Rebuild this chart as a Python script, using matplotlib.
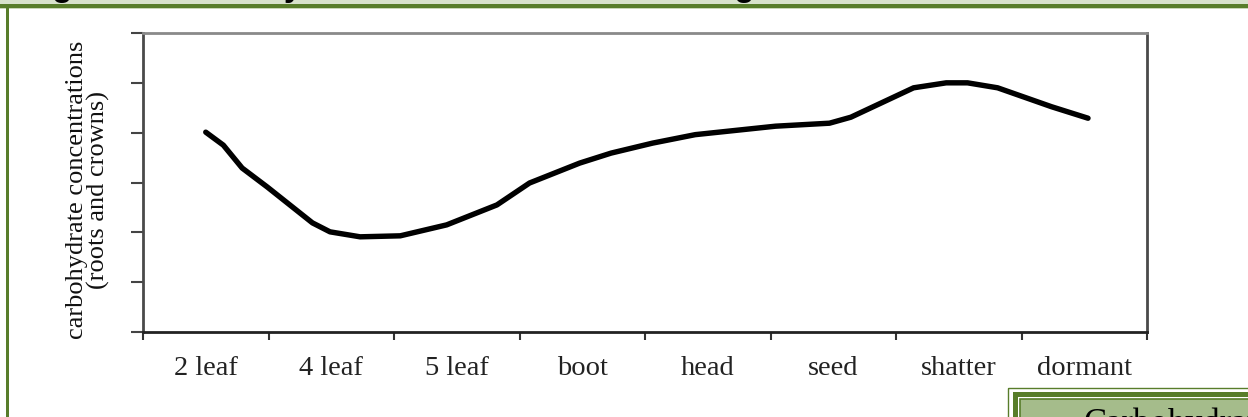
import matplotlib.pyplot as plt
from matplotlib.patches import Rectangle

# Datos
etapas = ['2 leaf', '4 leaf', '5 leaf', 'boot', 'head', 'seed', 'shatter', 'dormant']
pos_curva = [0.0, 0.14, 0.29, 0.49, 0.85, 0.99, 1.23, 1.55, 1.92, 2.32, 2.58, 2.98,
             3.23, 3.56, 3.90, 4.54, 4.97, 5.14, 5.64, 5.90, 6.07, 6.31, 6.74, 7.03]
concentracion = [4.01, 3.75, 3.29, 2.91, 2.19, 2.01, 1.91, 1.93, 2.15, 2.55, 2.99, 3.39,
                 3.59, 3.79, 3.96, 4.13, 4.19, 4.31, 4.90, 5.00, 5.00, 4.90, 4.52, 4.29]
titulo = 'Figure 1. Carbohydrate Concentrations Throughout the Season'
etiqueta_y = 'carbohydrate concentrations\n(roots and crowns)'
texto_caja = 'Carbohydrate'

W, H = 1248, 417
verde = '#587d2a'

fig = plt.figure(figsize=(W / 100, H / 100), dpi=100)

# capa de fondo en pixeles (marco verde, textos sueltos)
bg = fig.add_axes([0, 0, 1, 1])
bg.set_xlim(0, W)
bg.set_ylim(H, 0)
bg.axis('off')
bg.add_patch(Rectangle((0, 0), W, 4.5, color='#d8e2cb', lw=0))
# el titulo queda casi todo fuera de la imagen, solo se ven los rabitos
bg.text(23, -4.5, titulo, fontsize=23.7, fontweight='bold', family='Liberation Sans',
        va='baseline', ha='left', color='black')
bg.add_patch(Rectangle((0, 4), W, 3.5, color=verde, lw=0))
bg.add_patch(Rectangle((0, 7.5), W, 1, color='#c9d7b6', lw=0))
bg.add_patch(Rectangle((6, 4), 2.5, H, color=verde, lw=0))

# caja de abajo a la derecha
bg.add_patch(Rectangle((1008, 387.5), 300, 100, fill=False, ec=verde, lw=1))
bg.add_patch(Rectangle((1013, 392), 300, 5, color=verde, lw=0))
bg.add_patch(Rectangle((1013, 392), 4.5, 100, color=verde, lw=0))
bg.add_patch(Rectangle((1020, 399), 300, 100, fc='#a5bc8b', ec=verde, lw=1.2))
bg.text(1084, 433, texto_caja, fontsize=24.9, family='Liberation Serif',
        va='baseline', ha='left', color='black')

bg.text(88, 190, etiqueta_y, rotation=90, fontsize=19, family='Liberation Serif',
        ha='center', va='center', multialignment='center', linespacing=0.95, color='#111111')

# grafico
ax = fig.add_axes([143 / W, (H - 332) / H, 1004 / W, 299 / H])
ax.plot(pos_curva, concentracion, color='black', lw=3.9,
        solid_capstyle='round', solid_joinstyle='round')
ax.set_xlim(-0.5, len(etapas) - 0.5)
ax.set_ylim(0, 6)

ax.set_xticks(range(len(etapas)))
ax.set_xticklabels(etapas, fontsize=20.5, family='Liberation Serif', color='#222222')
ax.set_xticks([i - 0.5 for i in range(len(etapas) + 1)], minor=True)
ax.tick_params(axis='x', which='major', length=0, pad=17)
ax.tick_params(axis='x', which='minor', length=6, width=1.5, color='#333333', direction='out')
ax.set_yticks(range(7))
ax.set_yticklabels([])
ax.tick_params(axis='y', length=9, width=1.5, color='#444444', direction='out')

ax.spines['top'].set_color('#8a8a8a')
ax.spines['left'].set_color('#4a4a4a')
ax.spines['right'].set_color('#4a4a4a')
ax.spines['bottom'].set_color('#222222')
for s in ax.spines.values():
    s.set_linewidth(2)

fig.savefig('out.png', dpi=100)
